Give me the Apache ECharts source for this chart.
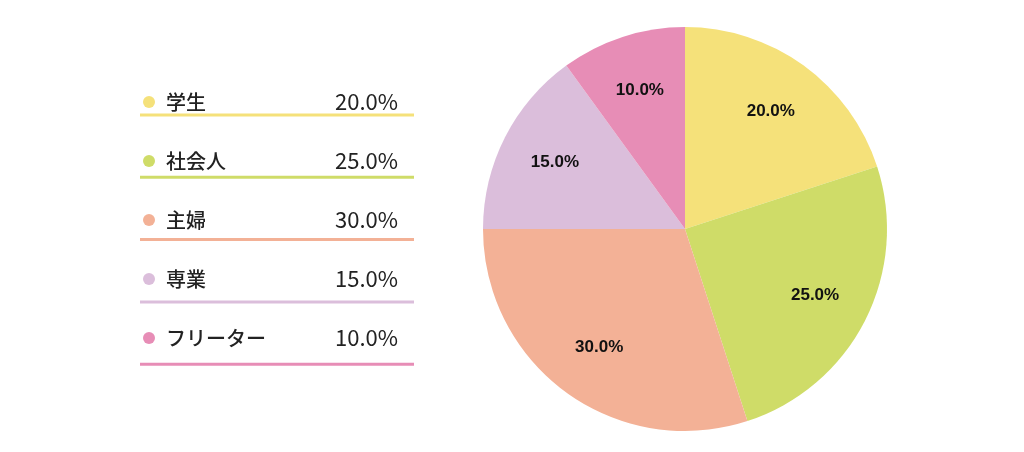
<!DOCTYPE html>
<html>
<head>
<meta charset="utf-8">
<script src="https://cdn.jsdelivr.net/npm/echarts@6/dist/echarts.min.js"></script>
<style>html,body{margin:0;padding:0;background:#fff;} #chartDiv{width:1024px;height:452px;}</style>
</head>
<body>
<div id="chartDiv"></div>
<script>
// 区分・割合
var categories = ['学生', '社会人', '主婦', '専業', 'フリーター'];
var values = [20.0, 25.0, 30.0, 15.0, 10.0];
var colors = ['#F5E17A', '#CFDC68', '#F3B196', '#DBBEDB', '#E78DB6'];

var myChart = echarts.init(document.getElementById('chartDiv'));

// 凡例の下線
var lines = [];
for (var i = 0; i < categories.length; i++) {
    lines.push({
        type: 'line',
        shape: { x1: 140, y1: 115 + i * 62.3, x2: 414, y2: 115 + i * 62.3 },
        style: { stroke: colors[i], lineWidth: 3 }
    });
}

var pieData = categories.map(function (c, i) { return { name: c, value: values[i] }; });

var option = {
    color: colors,
    graphic: lines,
    legend: {
        orient: 'vertical',
        left: 138,
        top: 86,
        itemGap: 37,
        icon: 'circle',
        itemWidth: 12,
        itemHeight: 12,
        selectedMode: false,
        formatter: function (name) {
            var idx = categories.indexOf(name);
            return '{n|' + name + '}{v|' + values[idx].toFixed(1) + '%}';
        },
        textStyle: {
            fontFamily: 'Noto Sans CJK JP',
            rich: {
                n: { fontSize: 20, width: 232, padding: [0, 0, 0, 6], color: '#222', fontFamily: 'Noto Sans CJK JP', fontWeight: 500 },
                v: { fontSize: 22, width: 0, align: 'right', color: '#222', fontFamily: 'Noto Sans CJK JP' }
            }
        }
    },
    series: [
        {
            type: 'pie',
            center: [685, 229],
            radius: [0, 202],
            startAngle: 90,
            clockwise: true,
            data: pieData,
            label: { show: false },
            labelLine: { show: false },
            emphasis: { disabled: true }
        },
        {
            // ラベル位置用の透明リング
            type: 'pie',
            center: [685, 229],
            radius: [84, 202],
            startAngle: 90,
            clockwise: true,
            silent: true,
            data: pieData,
            itemStyle: { color: 'transparent' },
            label: {
                position: 'inner',
                formatter: function (p) { return p.value.toFixed(1) + '%'; },
                fontFamily: 'Liberation Sans',
                fontWeight: 'bold',
                fontSize: 17,
                color: '#111'
            },
            labelLine: { show: false },
            emphasis: { disabled: true }
        }
    ]
};
myChart.setOption(option);
</script>
</body>
</html>
